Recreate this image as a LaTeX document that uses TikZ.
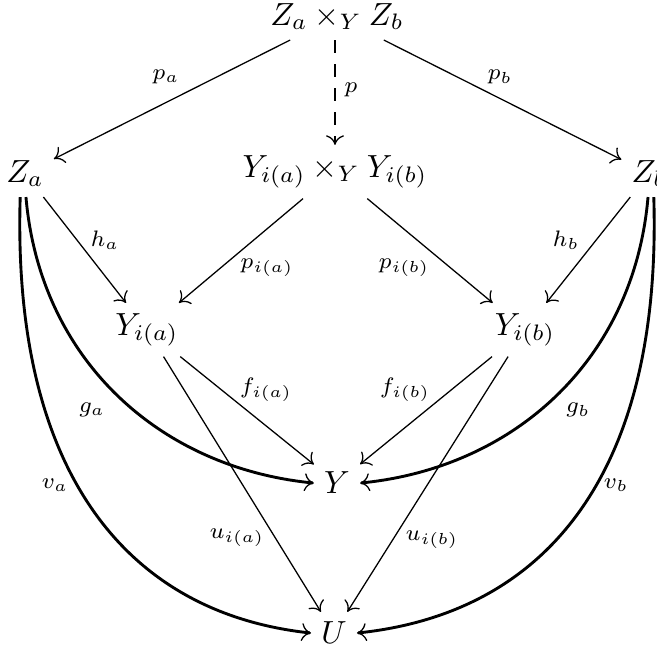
\documentclass[tikz,border=0pt]{standalone}
\usetikzlibrary{arrows.meta}
\begin{document}
\begin{tikzpicture}[x=0.3125pt,y=-0.3125pt]
\tikzset{
 obj/.style={anchor=base, inner sep=3pt},
 lbl/.style={inner sep=0pt},
 ar/.style={-{Computer Modern Rightarrow[length=3pt,width=5.6pt,line width=0.4pt]}, line width=0.4pt},
 cur/.style={ar, line width=0.9pt},
}
\useasboundingbox (0,0) rectangle (657,652);
\node[obj] (T) at (337,25) {$Z_a\times_Y Z_b$};
\node[obj] (Za) at (25,182) {$Z_a$};
\node[obj] (P) at (335,177) {$Y_{i(a)}\times_Y Y_{i(b)}$};
\node[obj] (Zb) at (649,182) {$Z_b$};
\node[obj] (Yia) at (147,335) {$Y_{i(a)}$};
\node[obj] (Yib) at (525,335) {$Y_{i(b)}$};
\node[obj] (Y) at (337,494) {$Y$};
\node[obj] (U) at (334,644) {$U$};

\draw[ar] (T) -- (Za);
\draw[ar] (T) -- (Zb);
\draw[ar, dash pattern=on 4pt off 3.5pt] (T.south -| P) -- (P);
\draw[ar] (Za) -- (Yia);
\draw[ar] (Zb) -- (Yib);
\draw[ar] (P) -- (Yia);
\draw[ar] (P) -- (Yib);
\draw[ar] (Yia) -- (Y);
\draw[ar] (Yib) -- (Y);
\draw[ar] (Yia) -- (U);
\draw[ar] (Yib) -- (U);

\draw[cur] ([xshift=0.3pt]Za.south) .. controls (40,360) and (160,468) .. (Y.west);
\draw[cur] ([xshift=-1.5pt]Za.south) .. controls (12,470) and (125,613) .. (U.west);
\draw[cur] ([xshift=-0.3pt]Zb.south) .. controls (634,360) and (514,468) .. (Y.east);
\draw[cur] ([xshift=1.5pt]Zb.south) .. controls (662,470) and (549,613) .. (U.east);

\node[lbl] (lpa) at (166,77) {$\scriptstyle p_a$};
\node[lbl] (lpb) at (500,77) {$\scriptstyle p_b$};
\node[lbl] (lp) at (351,90) {$\scriptstyle p$};
\node[lbl] (lha) at (105,240) {$\scriptstyle h_a$};
\node[lbl] (lhb) at (566,240) {$\scriptstyle h_b$};
\node[lbl] (lpia) at (267,268) {$\scriptstyle p_{i(a)}$};
\node[lbl] (lpib) at (404,268) {$\scriptstyle p_{i(b)}$};
\node[lbl] (lfia) at (266,390) {$\scriptstyle f_{i(a)}$};
\node[lbl] (lfib) at (405,390) {$\scriptstyle f_{i(b)}$};
\node[lbl] (lga) at (92,410) {$\scriptstyle g_a$};
\node[lbl] (lgb) at (578,410) {$\scriptstyle g_b$};
\node[lbl] (lva) at (55,485) {$\scriptstyle v_a$};
\node[lbl] (lvb) at (616,485) {$\scriptstyle v_b$};
\node[lbl] (luia) at (237,538) {$\scriptstyle u_{i(a)}$};
\node[lbl] (luib) at (432,540) {$\scriptstyle u_{i(b)}$};
\end{tikzpicture}
\end{document}
